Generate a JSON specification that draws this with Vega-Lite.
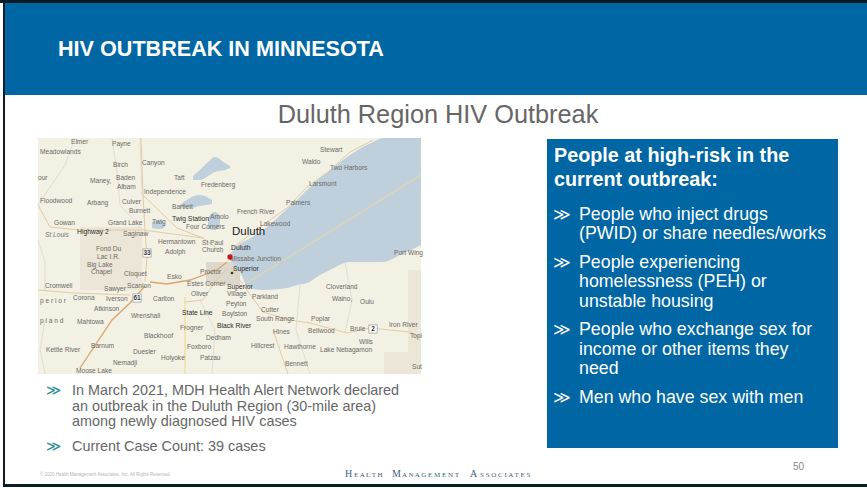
{"$schema":"https://vega.github.io/schema/vega-lite/v6.json","width":867,"height":488,"padding":0,"autosize":"none","background":"#ffffff","view":{"stroke":null},
"datasets":{
"rects":[
{"part":"frame","x":0,"x2":867,"y":0,"y2":3},
{"part":"header","x":4,"x2":867,"y":3,"y2":95},
{"part":"frame","x":3,"x2":5,"y":0,"y2":487},
{"part":"frame","x":3,"x2":867,"y":484,"y2":487},
{"part":"land","x":38,"x2":421,"y":138,"y2":374},
{"part":"tribal","x":80,"x2":142,"y":227,"y2":290},
{"part":"tribal","x":384,"x2":421,"y":352,"y2":374},
{"part":"tribal","x":408,"x2":421,"y":270,"y2":352},
{"part":"urban","x":206,"x2":240,"y":262,"y2":285},
{"part":"panel","x":547,"x2":838,"y":139,"y2":448}],
"water":[
{"w":"superior","x":228,"y":257,"y2":258},{"w":"superior","x":233,"y":250,"y2":263},{"w":"superior","x":243,"y":242,"y2":278},{"w":"superior","x":247,"y":240,"y2":287},{"w":"superior","x":263,"y":230,"y2":290},{"w":"superior","x":287,"y":209,"y2":288},{"w":"superior","x":297,"y":200,"y2":285},{"w":"superior","x":307,"y":190,"y2":283},{"w":"superior","x":320,"y":178,"y2":275},{"w":"superior","x":328,"y":172,"y2":271},{"w":"superior","x":350,"y":155,"y2":262},{"w":"superior","x":373,"y":142,"y2":262},{"w":"superior","x":383,"y":138,"y2":262},{"w":"superior","x":400,"y":138,"y2":255},{"w":"superior","x":421,"y":138,"y2":245},
{"w":"a","x":193,"y":176,"y2":180},{"w":"a","x":200,"y":170,"y2":180},{"w":"a","x":208,"y":162,"y2":176},{"w":"a","x":215,"y":157,"y2":172},{"w":"a","x":225,"y":163,"y2":170},{"w":"a","x":230,"y":166,"y2":168},
{"w":"b","x":180,"y":205,"y2":207},{"w":"b","x":190,"y":198,"y2":208},{"w":"b","x":200,"y":195,"y2":206},{"w":"b","x":212,"y":200,"y2":204},
{"w":"c","x":152,"y":222,"y2":228},{"w":"c","x":160,"y":220,"y2":229},{"w":"c","x":165,"y":224,"y2":227},
{"w":"d","x":208,"y":218,"y2":228},{"w":"d","x":214,"y":212,"y2":230},{"w":"d","x":220,"y":215,"y2":226}],
"roads":[
{"r":"m1","cls":"minor","x":140,"y":138},{"r":"m1","cls":"minor","x":142,"y":195},
{"r":"m2","cls":"minor","x":75,"y":138},{"r":"m2","cls":"minor","x":65,"y":165},{"r":"m2","cls":"minor","x":38,"y":205},
{"r":"m3","cls":"minor","x":112,"y":138},{"r":"m3","cls":"minor","x":118,"y":180},{"r":"m3","cls":"minor","x":120,"y":205},{"r":"m3","cls":"minor","x":143,"y":230},
{"r":"m4","cls":"minor","x":200,"y":300},{"r":"m4","cls":"minor","x":215,"y":330},{"r":"m4","cls":"minor","x":212,"y":374},
{"r":"m5","cls":"minor","x":300,"y":285},{"r":"m5","cls":"minor","x":296,"y":330},{"r":"m5","cls":"minor","x":310,"y":374},
{"r":"m6","cls":"minor","x":345,"y":262},{"r":"m6","cls":"minor","x":352,"y":300},{"r":"m6","cls":"minor","x":345,"y":333},
{"r":"m7","cls":"minor","x":38,"y":240},{"r":"m7","cls":"minor","x":45,"y":262},{"r":"m7","cls":"minor","x":45,"y":290},
{"r":"m8","cls":"minor","x":45,"y":320},{"r":"m8","cls":"minor","x":40,"y":350},{"r":"m8","cls":"minor","x":45,"y":374},
{"r":"h2","cls":"tan","x":38,"y":205},{"r":"h2","cls":"tan","x":50,"y":227},{"r":"h2","cls":"tan","x":80,"y":230},{"r":"h2","cls":"tan","x":143,"y":230},{"r":"h2","cls":"tan","x":203,"y":238},{"r":"h2","cls":"tan","x":223,"y":253},
{"r":"n","cls":"tan","x":141,"y":138},{"r":"n","cls":"tan","x":143,"y":195},{"r":"n","cls":"tan","x":145,"y":230},{"r":"n","cls":"tan","x":147,"y":257},{"r":"n","cls":"tan","x":145,"y":282},
{"r":"ind","cls":"tan","x":143,"y":195},{"r":"ind","cls":"tan","x":177,"y":228},{"r":"ind","cls":"tan","x":203,"y":238},
{"r":"west","cls":"tan","x":38,"y":290},{"r":"west","cls":"tan","x":73,"y":293},{"r":"west","cls":"tan","x":130,"y":295},
{"r":"shore","cls":"tan","x":230,"y":250},{"r":"shore","cls":"tan","x":260,"y":227},{"r":"shore","cls":"tan","x":287,"y":208},{"r":"shore","cls":"tan","x":307,"y":187},{"r":"shore","cls":"tan","x":328,"y":172},{"r":"shore","cls":"tan","x":350,"y":152},{"r":"shore","cls":"tan","x":373,"y":140},
{"r":"se","cls":"tan","x":230,"y":267},{"r":"se","cls":"tan","x":263,"y":312},{"r":"se","cls":"tan","x":290,"y":320},{"r":"se","cls":"tan","x":310,"y":323},{"r":"se","cls":"tan","x":347,"y":333},{"r":"se","cls":"tan","x":370,"y":328},{"r":"se","cls":"tan","x":410,"y":332},{"r":"se","cls":"tan","x":421,"y":338},
{"r":"hn","cls":"tan","x":273,"y":330},{"r":"hn","cls":"tan","x":288,"y":374},
{"r":"ol","cls":"tan","x":185,"y":302},{"r":"ol","cls":"tan","x":203,"y":300},{"r":"ol","cls":"tan","x":215,"y":282},{"r":"ol","cls":"tan","x":228,"y":268},
{"r":"lk","cls":"lakeline","x":247,"y":283},{"r":"lk","cls":"lakeline","x":421,"y":175},
{"r":"st","cls":"yellow","x":185,"y":297},{"r":"st","cls":"yellow","x":185,"y":374},
{"r":"i35a","cls":"major","x":80,"y":368},{"r":"i35a","cls":"major","x":92,"y":350},{"r":"i35a","cls":"major","x":112,"y":320},{"r":"i35a","cls":"major","x":130,"y":303},{"r":"i35a","cls":"major","x":145,"y":286},
{"r":"i35b","cls":"major","x":150,"y":282},{"r":"i35b","cls":"major","x":167,"y":284},{"r":"i35b","cls":"major","x":190,"y":280},{"r":"i35b","cls":"major","x":217,"y":270},{"r":"i35b","cls":"major","x":227,"y":262}],
"places":[
{"t":"Elmer","x":71,"y":142},{"t":"Payne","x":112,"y":144},{"t":"Meadowlands","x":40,"y":152},{"t":"Birch","x":113,"y":165},{"t":"Canyon","x":142,"y":163},{"t":"Waldo","x":302,"y":162},{"t":"Stewart","x":320,"y":150},{"t":"Two Harbors","x":330,"y":168},{"t":"our","x":38,"y":178},{"t":"Maney,","x":90,"y":181},{"t":"Baden","x":116,"y":178},{"t":"Albam","x":117,"y":187},{"t":"Taft","x":174,"y":178},{"t":"Fredenberg","x":201,"y":185},{"t":"Larsmont","x":309,"y":184},{"t":"Independence","x":144,"y":192},{"t":"Floodwood","x":40,"y":201},{"t":"Arbang","x":87,"y":203},{"t":"Culver","x":122,"y":202},{"t":"Bartlett","x":172,"y":207},{"t":"Palmers","x":286,"y":203},{"t":"Burnett","x":129,"y":211},{"t":"French River","x":237,"y":212},{"t":"Gowan","x":54,"y":223},{"t":"Grand Lake","x":108,"y":223},{"t":"Twig","x":152,"y":222},{"t":"Amolo","x":210,"y":217},{"t":"Lakewood","x":260,"y":224},{"t":"Saginaw","x":123,"y":234},{"t":"Four Corners","x":186,"y":227},{"t":"Hermantown","x":158,"y":242},{"t":"St Paul","x":202,"y":243},{"t":"Church","x":202,"y":250},{"t":"Fond Du","x":96,"y":249},{"t":"Lac I.R.","x":97,"y":257},{"t":"Adolph","x":165,"y":252},{"t":"Missabe Junction","x":230,"y":259},{"t":"Big Lake","x":87,"y":265},{"t":"Chapel","x":91,"y":272},{"t":"Cloquet","x":124,"y":274},{"t":"Esko","x":167,"y":277},{"t":"Proctor","x":200,"y":272},{"t":"Cromwell","x":45,"y":286},{"t":"Sawyer","x":104,"y":289},{"t":"Scanlon","x":127,"y":286},{"t":"Estes Corner","x":187,"y":284},{"t":"Corona","x":73,"y":298},{"t":"Iverson","x":106,"y":299},{"t":"Carlton","x":153,"y":299},{"t":"Oliver","x":191,"y":294},{"t":"Village","x":227,"y":294},{"t":"Parkland","x":252,"y":297},{"t":"Cloverland","x":326,"y":287},{"t":"Waino,","x":332,"y":299},{"t":"Oulu","x":360,"y":302},{"t":"Peyton","x":226,"y":304},{"t":"Atkinson","x":94,"y":309},{"t":"Wrenshall","x":131,"y":316},{"t":"Boylston","x":222,"y":314},{"t":"Cutter","x":261,"y":310},{"t":"South Range","x":256,"y":319},{"t":"Poplar","x":311,"y":319},{"t":"Mahtowa","x":77,"y":322},{"t":"Frogner","x":180,"y":328},{"t":"Hines","x":273,"y":332},{"t":"Bellwood","x":308,"y":331},{"t":"Brule","x":350,"y":329},{"t":"Iron River","x":389,"y":325},{"t":"Wills","x":359,"y":342},{"t":"Blackhoof","x":144,"y":336},{"t":"Dedham","x":206,"y":338},{"t":"Topi","x":410,"y":336},{"t":"Kettle River","x":46,"y":350},{"t":"Barnum","x":91,"y":346},{"t":"Duesler","x":133,"y":352},{"t":"Foxboro","x":187,"y":347},{"t":"Hillcrest","x":251,"y":346},{"t":"Hawthorne","x":284,"y":347},{"t":"Lake Nebagamon","x":320,"y":350},{"t":"Holyoke","x":161,"y":358},{"t":"Patzau","x":200,"y":358},{"t":"Nemadji","x":113,"y":363},{"t":"Bennett","x":285,"y":364},{"t":"Moose Lake","x":76,"y":371},{"t":"Port Wing","x":394,"y":253},{"t":"Sut","x":412,"y":367},{"t":"p l a n d","x":40,"y":321},{"t":"p e r i o r","x":40,"y":301}],
"placesDark":[{"t":"Twig Station","x":172,"y":219},{"t":"Highway 2","x":77,"y":232},{"t":"Duluth","x":231,"y":248},{"t":"Superior","x":233,"y":269},{"t":"Superior","x":227,"y":287},{"t":"State Line","x":182,"y":313},{"t":"Black River","x":217,"y":326}],
"placesBig":[{"t":"Duluth","x":232,"y":232}],
"shields":[{"t":"33","x":147,"y":253},{"t":"61","x":137,"y":298},{"t":"2","x":373,"y":329}],
"italics":[{"t":"St Louis","x":45,"y":235}],
"pins":[{"kind":"city","x":230,"y":257},{"kind":"town","x":232,"y":273}],
"headerText":[{"t":"HIV OUTBREAK IN MINNESOTA","x":58,"y":56}],
"subtitle":[{"t":"Duluth Region HIV Outbreak","x":438,"y":123}],
"panelHead":[{"t":"People at high-risk in the","x":554,"y":162},{"t":"current outbreak:","x":554,"y":186}],
"panelBody":[{"t":"People who inject drugs","x":579,"y":220},{"t":"(PWID) or share needles/works","x":579,"y":239},{"t":"People experiencing","x":579,"y":268},{"t":"homelessness (PEH) or","x":579,"y":287},{"t":"unstable housing","x":579,"y":307},{"t":"People who exchange sex for","x":579,"y":335},{"t":"income or other items they","x":579,"y":355},{"t":"need","x":579,"y":374},{"t":"Men who have sex with men","x":579,"y":403}],
"panelBullets":[{"t":"≫","x":553,"y":220},{"t":"≫","x":553,"y":268},{"t":"≫","x":553,"y":335},{"t":"≫","x":553,"y":403}],
"leftBody":[{"t":"In March 2021, MDH Health Alert Network declared","x":72,"y":395},{"t":"an outbreak in the Duluth Region (30-mile area)","x":72,"y":411},{"t":"among newly diagnosed HIV cases","x":72,"y":426},{"t":"Current Case Count: 39 cases","x":72,"y":451}],
"leftBullets":[{"t":"≫","x":46,"y":395},{"t":"≫","x":46,"y":451}],
"copyright":[{"t":"© 2020 Health Management Associates, Inc. All Rights Reserved.","x":40,"y":476}],
"brandBig":[{"t":"H","x":345,"y":477},{"t":"M","x":392,"y":477},{"t":"A","x":470,"y":477}],
"brandSmall":[{"t":"E A L T H","x":354,"y":477},{"t":"A N A G E M E N T","x":402,"y":477},{"t":"S S O C I A T E S","x":480,"y":477}],
"pageNo":[{"t":"50","x":793,"y":470}]
},
"encoding":{"x":{"field":"x","type":"quantitative","axis":null,"scale":{"domain":[0,867],"nice":false,"zero":false}},"y":{"field":"y","type":"quantitative","axis":null,"scale":{"domain":[488,0],"nice":false,"zero":false}}},
"resolve":{"scale":{"color":"independent"}},
"layer":[
{"data":{"name":"rects"},"mark":{"type":"rect"},"encoding":{"x2":{"field":"x2"},"y2":{"field":"y2"},"color":{"field":"part","type":"nominal","legend":null,"scale":{"domain":["frame","header","land","tribal","urban","panel"],"range":["#0b1c26","#0066a4","#f3f0e4","#ebe6d7","#dcd8cc","#0066a4"]}}}},
{"data":{"name":"water"},"mark":{"type":"area","color":"#bfcfdc","interpolate":"monotone"},"encoding":{"y2":{"field":"y2"},"detail":{"field":"w"}}},
{"data":{"name":"roads"},"mark":{"type":"line","clip":true},"encoding":{"order":{"value":null},"detail":{"field":"r"},"color":{"field":"cls","type":"nominal","legend":null,"scale":{"domain":["minor","tan","lakeline","yellow","major"],"range":["#d9d8d0","#e0c8a0","#e5d6a8","#eedc90","#d9a570"]}},"strokeWidth":{"field":"cls","type":"nominal","legend":null,"scale":{"domain":["minor","tan","lakeline","yellow","major"],"range":[0.8,1.3,1.6,1.8,2.4]}}}},
{"data":{"name":"shields"},"mark":{"type":"point","shape":"square","filled":true,"color":"#ffffff","stroke":"#888888","strokeWidth":0.6,"size":70,"opacity":1}},
{"data":{"name":"places"},"mark":{"type":"text","align":"left","baseline":"middle","font":"Liberation Sans","fontSize":6.6,"color":"#6b6b66"},"encoding":{"text":{"field":"t"}}},
{"data":{"name":"placesDark"},"mark":{"type":"text","align":"left","baseline":"middle","font":"Liberation Sans","fontSize":6.8,"color":"#2e2e2c"},"encoding":{"text":{"field":"t"}}},
{"data":{"name":"italics"},"mark":{"type":"text","align":"left","baseline":"middle","font":"Liberation Sans","fontStyle":"italic","fontSize":6.6,"color":"#777772"},"encoding":{"text":{"field":"t"}}},
{"data":{"name":"placesBig"},"mark":{"type":"text","align":"left","baseline":"middle","font":"Liberation Sans","fontSize":11.5,"color":"#222222"},"encoding":{"text":{"field":"t"}}},
{"data":{"name":"shields"},"mark":{"type":"text","align":"center","baseline":"middle","font":"Liberation Sans","fontWeight":"bold","fontSize":6.5,"color":"#333333"},"encoding":{"text":{"field":"t"}}},
{"data":{"name":"pins"},"mark":{"type":"point","filled":true,"opacity":1},"encoding":{"color":{"field":"kind","type":"nominal","legend":null,"scale":{"domain":["city","town"],"range":["#d0101a","#333333"]}},"size":{"field":"kind","type":"nominal","legend":null,"scale":{"domain":["city","town"],"range":[28,7]}}}},
{"data":{"name":"headerText"},"mark":{"type":"text","align":"left","baseline":"alphabetic","font":"Liberation Sans","fontWeight":"bold","fontSize":21.6,"color":"#ffffff"},"encoding":{"text":{"field":"t"}}},
{"data":{"name":"subtitle"},"mark":{"type":"text","align":"center","baseline":"alphabetic","font":"Liberation Sans","fontSize":25.3,"color":"#666666"},"encoding":{"text":{"field":"t"}}},
{"data":{"name":"panelHead"},"mark":{"type":"text","align":"left","baseline":"alphabetic","font":"Liberation Sans","fontWeight":"bold","fontSize":19.8,"color":"#ffffff"},"encoding":{"text":{"field":"t"}}},
{"data":{"name":"panelBody"},"mark":{"type":"text","align":"left","baseline":"alphabetic","font":"Liberation Sans","fontSize":17.8,"color":"#ffffff"},"encoding":{"text":{"field":"t"}}},
{"data":{"name":"panelBullets"},"mark":{"type":"text","align":"left","baseline":"alphabetic","font":"DejaVu Sans","fontSize":17,"color":"#ffffff"},"encoding":{"text":{"field":"t"}}},
{"data":{"name":"leftBody"},"mark":{"type":"text","align":"left","baseline":"alphabetic","font":"Liberation Sans","fontSize":14.4,"color":"#666666"},"encoding":{"text":{"field":"t"}}},
{"data":{"name":"leftBullets"},"mark":{"type":"text","align":"left","baseline":"alphabetic","font":"DejaVu Sans","fontSize":14.5,"color":"#2a8a96"},"encoding":{"text":{"field":"t"}}},
{"data":{"name":"copyright"},"mark":{"type":"text","align":"left","baseline":"alphabetic","font":"Liberation Sans","fontSize":4.5,"color":"#b5b5b5"},"encoding":{"text":{"field":"t"}}},
{"data":{"name":"brandBig"},"mark":{"type":"text","align":"left","baseline":"alphabetic","font":"Liberation Serif","fontSize":10,"color":"#3b5f7d"},"encoding":{"text":{"field":"t"}}},
{"data":{"name":"brandSmall"},"mark":{"type":"text","align":"left","baseline":"alphabetic","font":"Liberation Serif","fontSize":7,"color":"#3b5f7d"},"encoding":{"text":{"field":"t"}}},
{"data":{"name":"pageNo"},"mark":{"type":"text","align":"left","baseline":"alphabetic","font":"Liberation Sans","fontSize":10,"color":"#888888"},"encoding":{"text":{"field":"t"}}}
]}
